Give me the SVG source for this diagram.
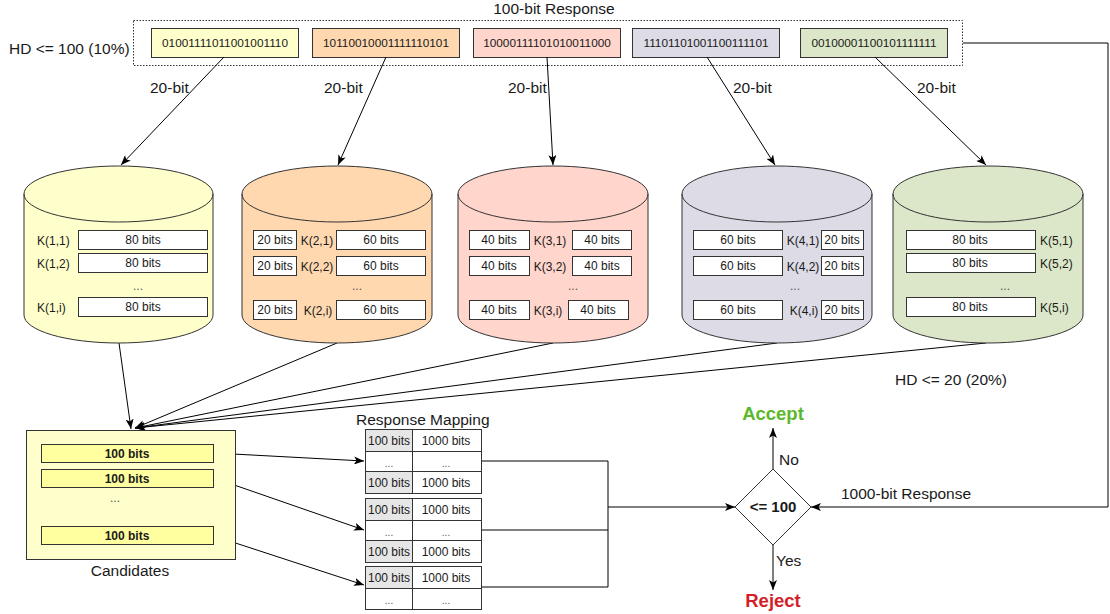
<svg xmlns="http://www.w3.org/2000/svg" width="1110" height="614" viewBox="0 0 1110 614">
<defs>
<marker id="arr" viewBox="0 0 10 8" refX="10" refY="4" markerWidth="10" markerHeight="8" markerUnits="userSpaceOnUse" orient="auto">
<path d="M0,0 L10,4 L0,8 L2.5,4 Z" fill="#000"/>
</marker>
<style>
text{font-family:"Liberation Sans",Arial,sans-serif;fill:#1a1a1a}
.lbl{font-size:15.5px}
.bin{font-size:11.8px;text-anchor:middle}
.cell{font-size:12px;text-anchor:middle}
.bx{fill:#fff;stroke:#333;stroke-width:1}
.cyl{stroke:#333;stroke-width:1}
.ln{fill:none;stroke:#000;stroke-width:1}
.tb{fill:#fff;stroke:#333;stroke-width:1}
.tg{fill:#e6e6e6;stroke:#333;stroke-width:1}
.dots{font-size:12px;text-anchor:middle;fill:#555}
</style>
</defs>
<rect width="1110" height="614" fill="#fff"/>

<g id="response">
<text class="lbl" x="554" y="14" text-anchor="middle">100-bit Response</text>
<rect x="133.5" y="20.5" width="829" height="45" fill="none" stroke="#333" stroke-dasharray="1.5,1.5"/>
<text class="lbl" x="9" y="54">HD &lt;= 100 (10%)</text>
<rect x="151.5" y="28.5" width="147" height="29" fill="#ffffcc" stroke="#333"/>
<text class="bin" x="225" y="47">01001111011001001110</text>
<rect x="312.5" y="28.5" width="147" height="29" fill="#ffd8b0" stroke="#333"/>
<text class="bin" x="386" y="47">10110010001111110101</text>
<rect x="473.5" y="28.5" width="147" height="29" fill="#ffd5cc" stroke="#333"/>
<text class="bin" x="547" y="47">10000111101010011000</text>
<rect x="632.5" y="28.5" width="147" height="29" fill="#dddbe6" stroke="#333"/>
<text class="bin" x="706" y="47">11101101001100111101</text>
<rect x="800.5" y="28.5" width="147" height="29" fill="#dbe7c8" stroke="#333"/>
<text class="bin" x="874" y="47">00100001100101111111</text>
</g>

<g id="connectors">
<line class="ln" x1="224" y1="57" x2="121" y2="165" marker-end="url(#arr)"/>
<line class="ln" x1="386" y1="57" x2="338" y2="165" marker-end="url(#arr)"/>
<line class="ln" x1="547" y1="57" x2="553" y2="165" marker-end="url(#arr)"/>
<line class="ln" x1="707" y1="57" x2="775" y2="165" marker-end="url(#arr)"/>
<line class="ln" x1="875" y1="57" x2="986" y2="165" marker-end="url(#arr)"/>
<line class="ln" x1="119" y1="343" x2="131" y2="429" marker-end="url(#arr)"/>
<line class="ln" x1="337" y1="343" x2="135" y2="428" marker-end="url(#arr)"/>
<line class="ln" x1="553" y1="343" x2="135" y2="428" marker-end="url(#arr)"/>
<line class="ln" x1="777" y1="343" x2="135" y2="428" marker-end="url(#arr)"/>
<line class="ln" x1="986" y1="343" x2="135" y2="428" marker-end="url(#arr)"/>
<line class="ln" x1="214" y1="453" x2="364" y2="461" marker-end="url(#arr)"/>
<line class="ln" x1="214" y1="478" x2="364" y2="530" marker-end="url(#arr)"/>
<line class="ln" x1="214" y1="536" x2="364" y2="585" marker-end="url(#arr)"/>
<polyline class="ln" points="481,461 608,461 608,587 481,587"/>
<line class="ln" x1="481" y1="530" x2="608" y2="530"/>
<line class="ln" x1="608" y1="507" x2="735" y2="507" marker-end="url(#arr)"/>
<polyline class="ln" points="963,43 1108,43 1108,507 811,507" marker-end="url(#arr)"/>
<line class="ln" x1="773" y1="469" x2="773" y2="428" marker-end="url(#arr)"/>
<line class="ln" x1="773" y1="545" x2="773" y2="590" marker-end="url(#arr)"/>
<text class="lbl" x="150" y="93">20-bit</text>
<text class="lbl" x="324" y="93">20-bit</text>
<text class="lbl" x="508" y="93">20-bit</text>
<text class="lbl" x="733" y="93">20-bit</text>
<text class="lbl" x="917" y="93">20-bit</text>
<text class="lbl" x="895" y="385">HD &lt;= 20 (20%)</text>
<text class="lbl" x="779" y="465">No</text>
<text class="lbl" x="776" y="566">Yes</text>
<text class="lbl" x="841" y="499">1000-bit Response</text>
</g>

<g id="db1">
<path class="cyl" fill="#ffffcc" d="M24,194 A94.5,28 0 0 1 213,194 L213,315 A94.5,28 0 0 1 24,315 Z"/>
<path class="cyl" fill="none" d="M24,194 A94.5,28 0 0 0 213,194"/>
<rect class="bx" x="78.5" y="230.5" width="129" height="19"/><text class="cell" x="143" y="244">80 bits</text>
<rect class="bx" x="78.5" y="253.5" width="129" height="19"/><text class="cell" x="143" y="267">80 bits</text>
<rect class="bx" x="78.5" y="297.5" width="129" height="19"/><text class="cell" x="143" y="311">80 bits</text>
<text class="cell" x="37" y="245" style="text-anchor:start">K(1,1)</text>
<text class="cell" x="37" y="268" style="text-anchor:start">K(1,2)</text>
<text class="cell" x="37" y="312" style="text-anchor:start">K(1,i)</text>
<text class="dots" x="138" y="290">...</text>
</g>

<g id="db2">
<path class="cyl" fill="#ffd8b0" d="M242,194 A95,28 0 0 1 432,194 L432,315 A95,28 0 0 1 242,315 Z"/>
<path class="cyl" fill="none" d="M242,194 A95,28 0 0 0 432,194"/>
<rect class="bx" x="253.5" y="230.5" width="43" height="19"/><text class="cell" x="275" y="244">20 bits</text>
<text class="cell" x="317" y="245">K(2,1)</text>
<rect class="bx" x="336.5" y="230.5" width="89" height="19"/><text class="cell" x="381" y="244">60 bits</text>
<rect class="bx" x="253.5" y="256.5" width="43" height="19"/><text class="cell" x="275" y="270">20 bits</text>
<text class="cell" x="317" y="271">K(2,2)</text>
<rect class="bx" x="336.5" y="256.5" width="89" height="19"/><text class="cell" x="381" y="270">60 bits</text>
<rect class="bx" x="253.5" y="300.5" width="43" height="19"/><text class="cell" x="275" y="314">20 bits</text>
<text class="cell" x="318" y="315">K(2,i)</text>
<rect class="bx" x="336.5" y="300.5" width="89" height="19"/><text class="cell" x="381" y="314">60 bits</text>
<text class="dots" x="357" y="290">...</text>
</g>

<g id="db3">
<path class="cyl" fill="#ffd5cc" d="M458,194 A95,28 0 0 1 648,194 L648,315 A95,28 0 0 1 458,315 Z"/>
<path class="cyl" fill="none" d="M458,194 A95,28 0 0 0 648,194"/>
<rect class="bx" x="469.5" y="230.5" width="60" height="19"/><text class="cell" x="499" y="244">40 bits</text>
<text class="cell" x="550" y="245">K(3,1)</text>
<rect class="bx" x="572.5" y="230.5" width="59" height="19"/><text class="cell" x="602" y="244">40 bits</text>
<rect class="bx" x="469.5" y="256.5" width="60" height="19"/><text class="cell" x="499" y="270">40 bits</text>
<text class="cell" x="550" y="271">K(3,2)</text>
<rect class="bx" x="572.5" y="256.5" width="59" height="19"/><text class="cell" x="602" y="270">40 bits</text>
<rect class="bx" x="469.5" y="300.5" width="60" height="19"/><text class="cell" x="499" y="314">40 bits</text>
<text class="cell" x="548" y="315">K(3,i)</text>
<rect class="bx" x="568.5" y="300.5" width="60" height="19"/><text class="cell" x="598" y="314">40 bits</text>
<text class="dots" x="573" y="290">...</text>
</g>

<g id="db4">
<path class="cyl" fill="#dddbe6" d="M682,194 A95,28 0 0 1 872,194 L872,315 A95,28 0 0 1 682,315 Z"/>
<path class="cyl" fill="none" d="M682,194 A95,28 0 0 0 872,194"/>
<rect class="bx" x="693.5" y="230.5" width="89" height="19"/><text class="cell" x="738" y="244">60 bits</text>
<text class="cell" x="803" y="245">K(4,1)</text>
<rect class="bx" x="821.5" y="230.5" width="42" height="19"/><text class="cell" x="842" y="244">20 bits</text>
<rect class="bx" x="693.5" y="256.5" width="89" height="19"/><text class="cell" x="738" y="270">60 bits</text>
<text class="cell" x="803" y="271">K(4,2)</text>
<rect class="bx" x="821.5" y="256.5" width="42" height="19"/><text class="cell" x="842" y="270">20 bits</text>
<rect class="bx" x="693.5" y="300.5" width="89" height="19"/><text class="cell" x="738" y="314">60 bits</text>
<text class="cell" x="804" y="315">K(4,i)</text>
<rect class="bx" x="821.5" y="300.5" width="42" height="19"/><text class="cell" x="842" y="314">20 bits</text>
<text class="dots" x="795" y="290">...</text>
</g>

<g id="db5">
<path class="cyl" fill="#dbe7c8" d="M893,194 A95,28 0 0 1 1083,194 L1083,315 A95,28 0 0 1 893,315 Z"/>
<path class="cyl" fill="none" d="M893,194 A95,28 0 0 0 1083,194"/>
<rect class="bx" x="906.5" y="230.5" width="129" height="19"/><text class="cell" x="970" y="244">80 bits</text>
<rect class="bx" x="906.5" y="253.5" width="129" height="19"/><text class="cell" x="970" y="267">80 bits</text>
<rect class="bx" x="906.5" y="297.5" width="129" height="19"/><text class="cell" x="970" y="311">80 bits</text>
<text class="cell" x="1040" y="245" style="text-anchor:start">K(5,1)</text>
<text class="cell" x="1040" y="268" style="text-anchor:start">K(5,2)</text>
<text class="cell" x="1040" y="312" style="text-anchor:start">K(5,i)</text>
<text class="dots" x="1005" y="290">...</text>
</g>

<g id="candidates">
<rect x="26.5" y="430.5" width="209" height="129" fill="#ffffcc" stroke="#333"/>
<rect x="41.5" y="444.5" width="172" height="18" fill="#ffff9f" stroke="#333"/>
<text class="cell" x="127" y="458" font-weight="bold">100 bits</text>
<rect x="41.5" y="469.5" width="172" height="18" fill="#ffff9f" stroke="#333"/>
<text class="cell" x="127" y="483" font-weight="bold">100 bits</text>
<text class="dots" x="115" y="502">...</text>
<rect x="41.5" y="526.5" width="172" height="18" fill="#ffff9f" stroke="#333"/>
<text class="cell" x="127" y="540" font-weight="bold">100 bits</text>
<text class="lbl" x="130" y="576" text-anchor="middle">Candidates</text>
</g>

<g id="mapping">
<text class="lbl" x="356" y="425">Response Mapping</text>
<rect class="tg" x="365.5" y="429.5" width="47" height="22"/><rect class="tb" x="412.5" y="429.5" width="69" height="22"/>
<text class="cell" x="389" y="445">100 bits</text><text class="cell" x="446" y="445">1000 bits</text>
<rect class="tb" x="365.5" y="451.5" width="47" height="20"/><rect class="tb" x="412.5" y="451.5" width="69" height="20"/>
<text class="dots" x="389" y="467" style="font-size:10px">...</text><text class="dots" x="446" y="467" style="font-size:10px">...</text>
<rect class="tg" x="365.5" y="471.5" width="47" height="22"/><rect class="tb" x="412.5" y="471.5" width="69" height="22"/>
<text class="cell" x="389" y="487">100 bits</text><text class="cell" x="446" y="487">1000 bits</text>

<rect class="tg" x="365.5" y="498.5" width="47" height="22"/><rect class="tb" x="412.5" y="498.5" width="69" height="22"/>
<text class="cell" x="389" y="514">100 bits</text><text class="cell" x="446" y="514">1000 bits</text>
<rect class="tb" x="365.5" y="520.5" width="47" height="20"/><rect class="tb" x="412.5" y="520.5" width="69" height="20"/>
<text class="dots" x="389" y="536" style="font-size:10px">...</text><text class="dots" x="446" y="536" style="font-size:10px">...</text>
<rect class="tg" x="365.5" y="540.5" width="47" height="22"/><rect class="tb" x="412.5" y="540.5" width="69" height="22"/>
<text class="cell" x="389" y="556">100 bits</text><text class="cell" x="446" y="556">1000 bits</text>

<rect class="tg" x="365.5" y="566.5" width="47" height="22"/><rect class="tb" x="412.5" y="566.5" width="69" height="22"/>
<text class="cell" x="389" y="582">100 bits</text><text class="cell" x="446" y="582">1000 bits</text>
<rect class="tb" x="365.5" y="588.5" width="47" height="21"/><rect class="tb" x="412.5" y="588.5" width="69" height="21"/>
<text class="dots" x="389" y="604" style="font-size:10px">...</text><text class="dots" x="446" y="604" style="font-size:10px">...</text>
</g>

<g id="decision">
<polygon points="773,469 811,507 773,545 735,507" fill="#fff" stroke="#333"/>
<text x="773" y="512" text-anchor="middle" font-size="15" font-weight="bold">&lt;= 100</text>
</g>
<g id="accept">
<text x="773" y="420" text-anchor="middle" font-size="18.5" font-weight="bold" style="fill:#5cb82d">Accept</text>
</g>
<g id="reject">
<text x="773" y="607" text-anchor="middle" font-size="18.5" font-weight="bold" style="fill:#d41f2a">Reject</text>
</g>
</svg>
